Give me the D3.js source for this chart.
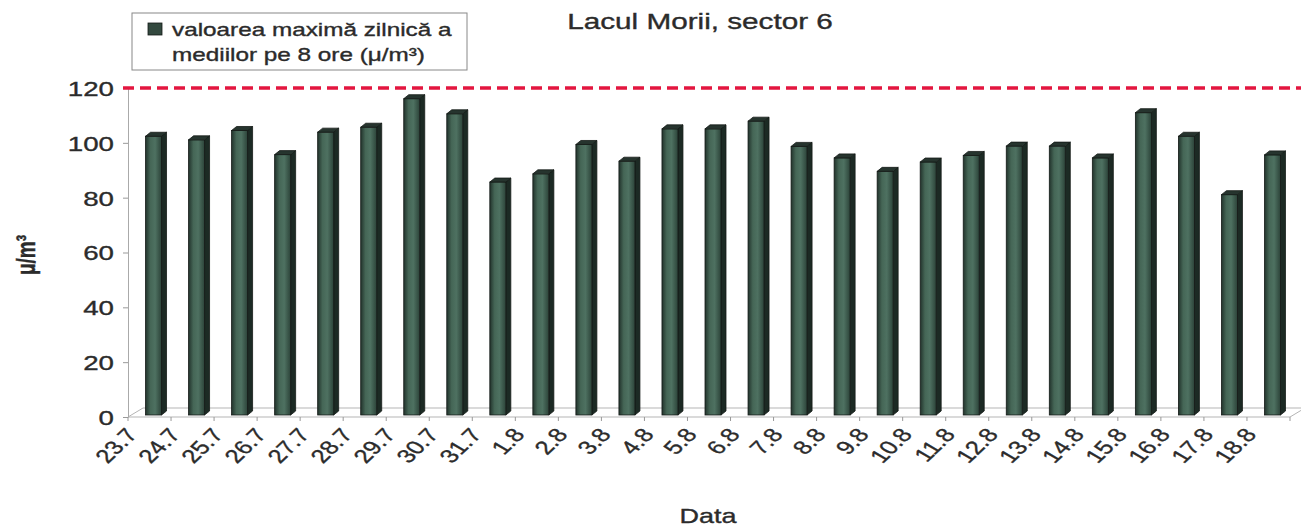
<!DOCTYPE html>
<html>
<head>
<meta charset="utf-8">
<script src="https://cdn.jsdelivr.net/npm/d3@7"></script>
<style>
  body { margin: 0; background: #fff; }
  text { font-family: "Liberation Sans", Arial, sans-serif; fill: #2b2b2b; stroke: #2b2b2b; stroke-width: 0.35px; }
</style>
</head>
<body>
<svg id="chart" width="1301" height="526"></svg>
<script>
// dates on the category axis
let days = ["23.7", "24.7", "25.7", "26.7", "27.7", "28.7", "29.7", "30.7", "31.7",
            "1.8", "2.8", "3.8", "4.8", "5.8", "6.8", "7.8", "8.8", "9.8", "10.8",
            "11.8", "12.8", "13.8", "14.8", "15.8", "16.8", "17.8", "18.8"];
// daily maximum of the 8 hour means
let values = [102.4, 101.1, 104.5, 95.7, 103.9, 105.7, 116.1, 110.6, 85.7,
              88.7, 99.4, 93.3, 105.1, 105.1, 107.9, 98.7, 94.5, 89.6, 93.0,
              95.4, 98.8, 98.8, 94.5, 111.0, 102.4, 81.1, 95.6];
let yTicks = [0, 20, 40, 60, 80, 100, 120];
let limitValue = 120;

let title = "Lacul Morii, sector 6";
let legendLines = ["valoarea maximă zilnică a", "mediilor pe 8 ore (μ/m³)"];
let yTitle = "μ/m³";
let xTitle = "Data";

// the scanned chart is stretched sideways, so text gets the same stretch
let sx = 1.35;

let svg = d3.select("#chart");

let x = d3.scaleBand().domain(days).range([128, 1290]).padding(0);
let y = d3.scaleLinear().domain([0, 120]).range([417, 88]);

let depthX = 15, depthY = 9;   // floor depth
let barW = 16, sideW = 5, capH = 4;

let defs = svg.append("defs");
let grad = defs.append("linearGradient").attr("id", "barFront");
grad.append("stop").attr("offset", "0%").attr("stop-color", "#22332c");
grad.append("stop").attr("offset", "30%").attr("stop-color", "#456656");
grad.append("stop").attr("offset", "60%").attr("stop-color", "#4e7161");
grad.append("stop").attr("offset", "100%").attr("stop-color", "#2c4339");

// floor of the 3d plot
let floor = svg.append("g").attr("fill", "none").attr("stroke", "#b5b5b5").attr("stroke-width", 1);
floor.append("line").attr("x1", x.range()[0]).attr("y1", y(0)).attr("x2", x.range()[1]).attr("y2", y(0));
floor.append("line").attr("x1", x.range()[0] + depthX).attr("y1", y(0) - depthY)
    .attr("x2", x.range()[1] + depthX).attr("y2", y(0) - depthY);
floor.append("line").attr("x1", x.range()[0]).attr("y1", y(0))
    .attr("x2", x.range()[0] + depthX).attr("y2", y(0) - depthY);
floor.append("line").attr("x1", x.range()[1]).attr("y1", y(0))
    .attr("x2", x.range()[1] + depthX).attr("y2", y(0) - depthY);

// category ticks between the bars
floor.selectAll(".xtick").data(days.concat(["end"])).enter().append("line")
    .attr("x1", (d, i) => x.range()[0] + i * x.step())
    .attr("x2", (d, i) => x.range()[0] + i * x.step())
    .attr("y1", y(0)).attr("y2", y(0) + 4)
    .attr("stroke", "#999");

// y axis
let yAxis = svg.append("g")
    .attr("transform", "translate(" + x.range()[0] + ",0)")
    .call(d3.axisLeft(y).tickValues(yTicks).tickSize(5).tickSizeOuter(0));
yAxis.select(".domain").attr("stroke", "#aaa");
yAxis.selectAll(".tick line").attr("stroke", "#999");
yAxis.selectAll(".tick text")
    .attr("x", 0).attr("dy", "0.36em")
    .attr("transform", "translate(-14,0) scale(" + sx + ",1)")
    .style("font-size", "20.5px")
    .style("font-family", "'Liberation Sans', Arial, sans-serif")
    .attr("fill", "#2b2b2b");

// bars, drawn as simple 3d columns
let bars = svg.append("g").selectAll("g").data(values).enter().append("g");
let frontX = (d, i) => x(days[i]) + x.step() / 2 - 4;

bars.append("path")
    .attr("d", (d, i) => {
        let fx = frontX(d, i), top = y(d), base = y(0) - 2;
        return "M" + (fx + barW) + "," + top + " L" + (fx + barW + sideW) + "," + (top - capH) +
            " L" + (fx + barW + sideW) + "," + (base - capH) + " L" + (fx + barW) + "," + base + "Z";
    })
    .attr("fill", "#1c2a24").attr("stroke", "#141a17").attr("stroke-width", 0.8);

bars.append("rect")
    .attr("x", frontX)
    .attr("y", d => y(d))
    .attr("width", barW)
    .attr("height", d => y(0) - 2 - y(d))
    .attr("fill", "url(#barFront)")
    .attr("stroke", "#141a17").attr("stroke-width", 0.8);

bars.append("path")
    .attr("d", (d, i) => {
        let fx = frontX(d, i), top = y(d);
        return "M" + fx + "," + top + " L" + (fx + sideW) + "," + (top - capH) +
            " L" + (fx + barW + sideW) + "," + (top - capH) + " L" + (fx + barW) + "," + top + "Z";
    })
    .attr("fill", "#26342e").attr("stroke", "#141a17").attr("stroke-width", 0.8);

// limit line at 120
svg.append("line")
    .attr("x1", x.range()[0] - 5).attr("x2", 1301)
    .attr("y1", y(limitValue)).attr("y2", y(limitValue))
    .attr("stroke", "#e3163f").attr("stroke-width", 3.5)
    .attr("stroke-dasharray", "11,6");

// rotated date labels
svg.append("g").selectAll("text").data(days).enter().append("text")
    .attr("transform", d => "translate(" + (x(d) + x.step() / 2 - 11) + ",435) scale(" + sx + ",1) rotate(-52)")
    .attr("text-anchor", "end")
    .style("font-size", "19px")
    .text(d => d);

// titles
svg.append("text")
    .attr("transform", "translate(700,29) scale(" + sx + ",1)")
    .attr("text-anchor", "middle")
    .style("font-size", "22px")
    .text(title);

svg.append("text")
    .attr("transform", "translate(708,523) scale(" + sx + ",1)")
    .attr("text-anchor", "middle")
    .style("font-size", "20px")
    .text(xTitle);

svg.append("text")
    .attr("transform", "translate(35,255) scale(" + sx + ",1) rotate(-90)")
    .attr("text-anchor", "middle")
    .style("font-size", "19px")
    .style("font-weight", "bold")
    .text(yTitle);

// legend
let legend = svg.append("g");
legend.append("rect")
    .attr("x", 132).attr("y", 13).attr("width", 335).attr("height", 57)
    .attr("fill", "#fff").attr("stroke", "#888").attr("stroke-width", 1);
legend.append("rect")
    .attr("x", 148).attr("y", 23).attr("width", 14).attr("height", 12)
    .attr("fill", "#33493f").attr("stroke", "#141a17").attr("stroke-width", 0.8);
legend.selectAll(".line").data(legendLines).enter().append("text")
    .attr("transform", (d, i) => "translate(172," + (36 + i * 25) + ") scale(" + sx + ",1)")
    .style("font-size", "18px")
    .text(d => d);
</script>
</body>
</html>
